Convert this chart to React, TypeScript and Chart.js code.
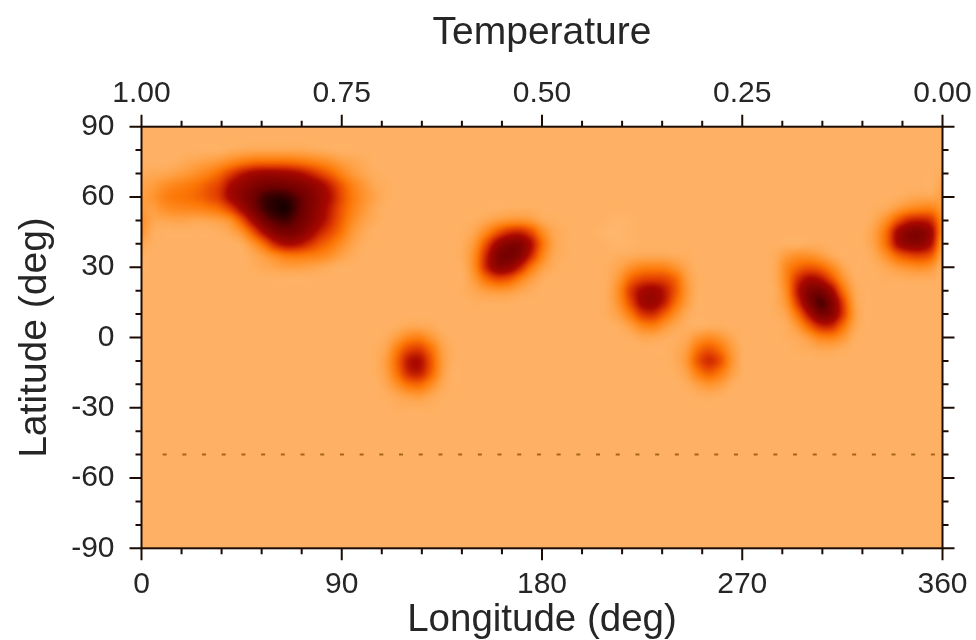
import React, { useEffect, useRef } from "react";
import { Chart, registerables } from "chart.js";

Chart.register(...registerables);

const lonTickValues = [0, 18, 36, 54, 72, 90, 108, 126, 144, 162, 180, 198, 216, 234, 252, 270, 288, 306, 324, 342, 360];
const latTickValues = [-90, -80, -70, -60, -50, -40, -30, -20, -10, 0, 10, 20, 30, 40, 50, 60, 70, 80, 90];
const lonLabels: Record<number, string> = { 0: "0", 90: "90", 180: "180", 270: "270", 360: "360" };
const phaseLabels: Record<number, string> = { 0: "1.00", 90: "0.75", 180: "0.50", 270: "0.25", 360: "0.00" };
const latLabels: Record<number, string> = { "-90": "-90", "-60": "-60", "-30": "-30", 0: "0", 30: "30", 60: "60", 90: "90" };

const dottedLon = [9.5, 360];
const dottedLat = [-50, -50];

// Intensity samples (0-100) on a 5 degree grid; each patch: first longitude, first latitude (north first), rows.
const spotAOrigin = [0, 80];
const spotA = [
  [0, 0, 0, 0, 0, 0, 0, 0, 2, 3, 4, 4, 4, 4, 4, 3, 2, 1, 0, 0, 0, 0, 0],
  [0, 0, 0, 1, 3, 5, 7, 10, 15, 20, 24, 25, 25, 25, 23, 20, 16, 12, 7, 4, 2, 0, 0],
  [2, 3, 4, 6, 9, 13, 18, 26, 38, 50, 58, 62, 62, 60, 56, 48, 38, 28, 17, 9, 4, 1, 0],
  [5, 7, 12, 16, 19, 23, 30, 38, 55, 66, 74, 80, 82, 80, 76, 70, 60, 46, 30, 17, 9, 3, 1],
  [7, 10, 17, 21, 23, 26, 32, 40, 58, 70, 82, 92, 96, 95, 88, 78, 66, 52, 34, 20, 11, 5, 1],
  [9, 7, 12, 15, 16, 17, 20, 25, 38, 58, 78, 92, 98, 100, 90, 78, 64, 48, 31, 18, 9, 3, 0],
  [14, 5, 4, 5, 5, 4, 5, 7, 13, 32, 58, 80, 90, 92, 85, 74, 60, 44, 28, 14, 6, 2, 0],
  [14, 2, 0, 0, 0, 0, 0, 1, 4, 12, 32, 56, 74, 80, 76, 64, 48, 35, 22, 9, 3, 0, 0],
  [8, 1, 0, 0, 0, 0, 0, 0, 0, 2, 11, 26, 46, 56, 54, 44, 32, 23, 13, 5, 1, 0, 0],
  [3, 0, 0, 0, 0, 0, 0, 0, 0, 0, 3, 8, 15, 21, 22, 20, 17, 12, 6, 2, 0, 0, 0],
  [0, 0, 0, 0, 0, 0, 0, 0, 0, 0, 1, 3, 5, 7, 7, 6, 4, 2, 0, 0, 0, 0, 0],
];
const spotBOrigin = [105, 5];
const spotB = [
  [0, 0, 1, 3, 3, 2, 0, 0],
  [0, 2, 8, 16, 18, 10, 3, 0],
  [1, 5, 20, 35, 38, 24, 7, 1],
  [1, 8, 27, 50, 53, 32, 9, 1],
  [1, 7, 24, 45, 48, 29, 8, 0],
  [0, 4, 13, 24, 26, 15, 4, 0],
  [0, 1, 4, 7, 8, 4, 1, 0],
  [0, 0, 1, 1, 1, 1, 0, 0],
];
const spotCOrigin = [145, 55];
const spotC = [
  [0, 0, 0, 0, 1, 1, 1, 0, 0, 0],
  [0, 1, 4, 8, 11, 12, 9, 3, 1, 0],
  [1, 5, 16, 31, 43, 46, 35, 15, 4, 1],
  [2, 11, 34, 60, 73, 73, 54, 24, 6, 1],
  [3, 16, 46, 74, 80, 72, 46, 18, 4, 1],
  [2, 16, 46, 67, 66, 48, 23, 8, 2, 0],
  [1, 10, 25, 35, 32, 19, 8, 2, 0, 0],
  [1, 4, 8, 10, 9, 5, 2, 0, 0, 0],
  [0, 1, 1, 1, 1, 0, 0, 0, 0, 0],
];
const spotDOrigin = [205, 35];
const spotD = [
  [0, 0, 1, 2, 3, 3, 3, 2, 1, 0],
  [0, 1, 5, 12, 17, 18, 17, 11, 4, 0],
  [0, 2, 11, 27, 36, 38, 36, 26, 8, 1],
  [0, 3, 16, 40, 56, 60, 50, 31, 10, 1],
  [0, 3, 14, 36, 58, 62, 48, 25, 8, 0],
  [0, 2, 8, 22, 40, 43, 29, 13, 3, 0],
  [0, 0, 2, 8, 17, 19, 11, 4, 1, 0],
  [0, 0, 0, 1, 4, 4, 2, 1, 0, 0],
];
const spotEOrigin = [240, 5];
const spotE = [
  [0, 0, 0, 1, 1, 0, 0],
  [0, 3, 10, 14, 10, 4, 0],
  [2, 7, 23, 31, 23, 9, 1],
  [2, 10, 31, 43, 33, 12, 1],
  [1, 6, 20, 29, 21, 8, 1],
  [0, 2, 7, 11, 8, 2, 0],
  [0, 0, 1, 2, 1, 0, 0],
];
const spotFOrigin = [280, 40];
const spotF = [
  [0, 0, 0, 0, 1, 1, 0, 0, 0, 0],
  [0, 2, 8, 12, 12, 8, 3, 0, 0, 0],
  [0, 3, 16, 26, 31, 27, 16, 5, 0, 0],
  [0, 3, 18, 42, 56, 52, 34, 13, 2, 0],
  [0, 2, 16, 50, 74, 78, 60, 26, 5, 0],
  [0, 2, 12, 42, 74, 90, 76, 40, 8, 0],
  [0, 1, 6, 25, 54, 78, 72, 42, 10, 0],
  [0, 0, 2, 11, 29, 46, 46, 26, 6, 0],
  [0, 0, 1, 3, 9, 17, 18, 11, 2, 0],
  [0, 0, 0, 1, 2, 4, 4, 2, 0, 0],
];
const spotGOrigin = [325, 60];
const spotG = [
  [0, 0, 0, 1, 3, 4, 4],
  [0, 1, 3, 9, 15, 18, 18],
  [0, 4, 14, 32, 46, 49, 42],
  [1, 8, 26, 58, 72, 74, 58],
  [1, 8, 26, 56, 68, 68, 52],
  [0, 4, 14, 28, 36, 38, 30],
  [0, 1, 4, 9, 12, 14, 10],
  [0, 0, 1, 1, 2, 2, 2],
];
const brightSpotOrigin = [205, 50];
const brightSpot = [
  [0, -1, -2, -1],
  [-1, -3, -3, -1],
  [0, -1, -2, -1],
];

const colorStops: [number, number, number, number][] = [
  [-8, 255, 190, 122],
  [0, 254, 177, 100],
  [10, 255, 150, 50],
  [22, 252, 118, 5],
  [38, 226, 62, 0],
  [55, 170, 8, 0],
  [85, 108, 0, 0],
  [100, 28, 0, 0],
];

const patches: [number[], number[][]][] = [
  [spotAOrigin, spotA],
  [spotBOrigin, spotB],
  [spotCOrigin, spotC],
  [spotDOrigin, spotD],
  [spotEOrigin, spotE],
  [spotFOrigin, spotF],
  [spotGOrigin, spotG],
  [brightSpotOrigin, brightSpot],
];

const cellPoints = patches.flatMap(([origin, rows]) =>
  rows.flatMap((row, r) => row.map((v, c) => ({ x: origin[0] + c * 5, y: origin[1] - r * 5, v })))
);

const COLS = 72;
const ROWS = 37;

function cubic(a: number, b: number, c: number, d: number, t: number) {
  return b + 0.5 * t * (c - a + t * (2 * a - 5 * b + 4 * c - d + t * (3 * (b - c) + d - a)));
}

function colorOf(v: number): [number, number, number] {
  if (v <= colorStops[0][0]) return [colorStops[0][1], colorStops[0][2], colorStops[0][3]];
  for (let i = 1; i < colorStops.length; i++) {
    const p = colorStops[i - 1];
    const q = colorStops[i];
    if (v <= q[0]) {
      const t = (v - p[0]) / (q[0] - p[0]);
      return [p[1] + (q[1] - p[1]) * t, p[2] + (q[2] - p[2]) * t, p[3] + (q[3] - p[3]) * t];
    }
  }
  const l = colorStops[colorStops.length - 1];
  return [l[1], l[2], l[3]];
}

const heatPlugin = {
  id: "heat",
  beforeDatasetsDraw(chart: any) {
    const { ctx, chartArea, scales } = chart;
    const grid = new Float32Array(COLS * ROWS);
    for (const p of chart.data.datasets[0].data) {
      const c = Math.round(p.x / 5) % COLS;
      const r = Math.round((90 - p.y) / 5);
      grid[r * COLS + c] += p.v;
    }
    const at = (r: number, c: number) => {
      const rr = Math.max(0, Math.min(ROWS - 1, r));
      const cc = ((c % COLS) + COLS) % COLS;
      return grid[rr * COLS + cc];
    };
    const left = Math.round(chartArea.left);
    const top = Math.round(chartArea.top);
    const w = Math.round(chartArea.right) - left;
    const h = Math.round(chartArea.bottom) - top;
    const img = ctx.createImageData(w, h);
    for (let py = 0; py < h; py++) {
      const lat = scales.y.getValueForPixel(top + py + 0.5);
      const fr = (90 - lat) / 5;
      const r0 = Math.floor(fr);
      const tr = fr - r0;
      for (let px = 0; px < w; px++) {
        const lon = scales.x.getValueForPixel(left + px + 0.5);
        const fc = lon / 5;
        const c0 = Math.floor(fc);
        const tc = fc - c0;
        const col = [-1, 0, 1, 2].map((dr) =>
          cubic(at(r0 + dr, c0 - 1), at(r0 + dr, c0), at(r0 + dr, c0 + 1), at(r0 + dr, c0 + 2), tc)
        );
        const v = cubic(col[0], col[1], col[2], col[3], tr);
        const [R, G, B] = colorOf(v);
        const i = (py * w + px) * 4;
        img.data[i] = R;
        img.data[i + 1] = G;
        img.data[i + 2] = B;
        img.data[i + 3] = 255;
      }
    }
    ctx.putImageData(img, left, top);
  },
  afterDatasetsDraw(chart: any) {
    const { ctx, chartArea, scales } = chart;
    const { left, right, top, bottom } = chartArea;
    ctx.save();
    ctx.strokeStyle = "#1c0c04";
    ctx.lineWidth = 2;
    ctx.strokeRect(left, top, right - left, bottom - top);
    ctx.beginPath();
    for (const v of lonTickValues) {
      const x = scales.x.getPixelForValue(v);
      const len = v % 90 === 0 ? 12 : 6;
      ctx.moveTo(x, bottom);
      ctx.lineTo(x, bottom + len);
      ctx.moveTo(x, top);
      ctx.lineTo(x, top - len);
    }
    for (const v of latTickValues) {
      const y = scales.y.getPixelForValue(v);
      const len = v % 30 === 0 ? 12 : 6;
      ctx.moveTo(left, y);
      ctx.lineTo(left - len, y);
      ctx.moveTo(right, y);
      ctx.lineTo(right + len, y);
    }
    ctx.stroke();
    ctx.restore();
  },
};

const FONT = "'Liberation Sans', Arial, sans-serif";
const TEXT = "#262626";

export default function App() {
  const ref = useRef<HTMLCanvasElement>(null);
  useEffect(() => {
    const fitW = (size: number) => (s: any) => {
      s.width = size;
      s.paddingTop = 0;
      s.paddingBottom = 0;
    };
    const fitH = (size: number) => (s: any) => {
      s.height = size;
      s.paddingLeft = 0;
      s.paddingRight = 0;
    };
    const chart = new Chart(ref.current as HTMLCanvasElement, {
      type: "scatter",
      data: {
        datasets: [
          { data: cellPoints as any, pointRadius: 0, xAxisID: "x", yAxisID: "y" },
          {
            data: dottedLon.map((x, i) => ({ x, y: dottedLat[i] })),
            showLine: true,
            pointRadius: 0,
            borderColor: "#a5621c",
            borderWidth: 2,
            borderDash: [4, 15.7],
            xAxisID: "x",
            yAxisID: "y",
          },
        ],
      },
      options: {
        animation: false,
        responsive: false,
        layout: { padding: 0 },
        plugins: { legend: { display: false }, tooltip: { enabled: false } },
        scales: {
          x: {
            type: "linear",
            position: "bottom",
            min: 0,
            max: 360,
            afterFit: fitH(91.7),
            afterBuildTicks: (s: any) => {
              s.ticks = lonTickValues.map((value) => ({ value }));
            },
            grid: { display: false, drawTicks: false },
            border: { display: false },
            ticks: {
              autoSkip: false,
              maxRotation: 0,
              padding: 18,
              color: TEXT,
              font: { family: FONT, size: 30 },
              callback: (v: any) => lonLabels[v] ?? "",
            },
            title: {
              display: true,
              text: "Longitude (deg)",
              color: TEXT,
              font: { family: FONT, size: 38.5 },
              padding: { top: 0, bottom: -3 },
            },
          },
          x2: {
            type: "linear",
            position: "top",
            min: 0,
            max: 360,
            afterFit: fitH(126.7),
            afterBuildTicks: (s: any) => {
              s.ticks = lonTickValues.map((value) => ({ value }));
            },
            grid: { display: false, drawTicks: false },
            border: { display: false },
            ticks: {
              autoSkip: false,
              maxRotation: 0,
              padding: 15,
              color: TEXT,
              font: { family: FONT, size: 30 },
              callback: (v: any) => phaseLabels[v] ?? "",
            },
            title: {
              display: true,
              text: "Temperature",
              color: TEXT,
              font: { family: FONT, size: 39 },
              padding: { top: 10, bottom: 0 },
            },
          },
          y: {
            type: "linear",
            position: "left",
            min: -90,
            max: 90,
            afterFit: fitW(141.5),
            afterBuildTicks: (s: any) => {
              s.ticks = latTickValues.map((value) => ({ value }));
            },
            grid: { display: false, drawTicks: false },
            border: { display: false },
            ticks: {
              autoSkip: false,
              padding: 27,
              color: TEXT,
              font: { family: FONT, size: 30 },
              callback: (v: any) => latLabels[v] ?? "",
            },
            title: {
              display: true,
              text: "Latitude (deg)",
              color: TEXT,
              font: { family: FONT, size: 39 },
              padding: { top: 12, bottom: 0 },
            },
          },
          y2: {
            type: "linear",
            position: "right",
            min: -90,
            max: 90,
            afterFit: fitW(33.5),
            grid: { display: false, drawTicks: false },
            border: { display: false },
            ticks: { display: false },
          },
        },
      } as any,
      plugins: [heatPlugin as any],
    });
    return () => chart.destroy();
  }, []);
  return (
    <canvas
      ref={ref}
      width={976}
      height={640}
      style={{ position: "absolute", left: 0, top: 0, display: "block", width: 976, height: 640 }}
    />
  );
}
